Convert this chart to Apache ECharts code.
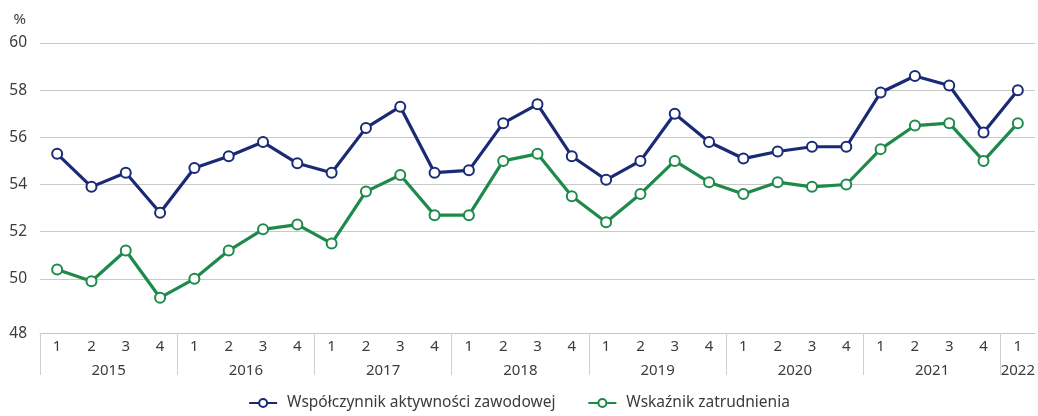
<!DOCTYPE html>
<html>
<head>
<meta charset="utf-8">
<script src="https://cdn.jsdelivr.net/npm/echarts@6/dist/echarts.min.js"></script>
<style>
  html, body { margin: 0; padding: 0; background: #fff; }
  #chart { width: 1038px; height: 416px; }
</style>
</head>
<body>
<div id="chart"></div>
<script>
var quarters = ['1','2','3','4','1','2','3','4','1','2','3','4','1','2','3','4',
                '1','2','3','4','1','2','3','4','1','2','3','4','1'];
var years = ['2015','2016','2017','2018','2019','2020','2021','2022'];
var yearTicks = [0, 4, 8, 12, 16, 20, 24, 28];
var yearLabelPos = [2, 6, 10, 14, 18, 22, 26, 28.5];
var yTicks = [48, 50, 52, 54, 56, 58, 60];

var aktywnosc = [55.3, 53.9, 54.5, 52.8, 54.7, 55.2, 55.8, 54.9, 54.5, 56.4, 57.3, 54.5,
                 54.6, 56.6, 57.4, 55.2, 54.2, 55.0, 57.0, 55.8, 55.1, 55.4, 55.6, 55.6,
                 57.9, 58.6, 58.2, 56.2, 58.0];
var zatrudnienie = [50.4, 49.9, 51.2, 49.2, 50.0, 51.2, 52.1, 52.3, 51.5, 53.7, 54.4, 52.7,
                    52.7, 55.0, 55.3, 53.5, 52.4, 53.6, 55.0, 54.1, 53.6, 54.1, 53.9, 54.0,
                    55.5, 56.5, 56.6, 55.0, 56.6];

var navy = '#1a2a75';
var green = '#1e8a4a';
var textColor = '#3c3c3c';
var font = 'Noto Sans';

var chart = echarts.init(document.getElementById('chart'));

var option = {
    backgroundColor: '#fff',
    textStyle: { fontFamily: font },
    animation: false,
    grid: { left: 40, right: 2, top: 43, bottom: 90, containLabel: false },
    legend: {
        bottom: 0,
        left: 'center',
        itemGap: 32,
        itemWidth: 28,
        itemHeight: 10,
        textStyle: { fontFamily: font, fontSize: 15.5, color: textColor, padding: [0, 0, 0, 5] },
        data: ['Współczynnik aktywności zawodowej', 'Wskaźnik zatrudnienia']
    },
    xAxis: [{
        type: 'category',
        data: quarters,
        position: 'bottom',
        offset: 7,
        boundaryGap: true,
        axisLine: { lineStyle: { color: '#c4c4c4', width: 1 } },
        axisTick: { interval: 0, length: 22, lineStyle: { color: '#cfcfcf' } },
        axisLabel: { interval: 0, margin: 6, fontSize: 15, color: textColor, fontFamily: font }
    }, {
        type: 'value',
        min: 0,
        max: 29,
        position: 'bottom',
        offset: 7,
        axisLine: { show: false },
        splitLine: { show: false },
        axisTick: { show: true, customValues: yearTicks, length: 42, lineStyle: { color: '#cfcfcf' } },
        axisLabel: {
            customValues: yearLabelPos,
            margin: 30,
            fontSize: 15,
            color: textColor,
            fontFamily: font,
            formatter: function (v) { return years[Math.floor(v / 4)]; }
        }
    }],
    yAxis: {
        type: 'value',
        min: 48,
        max: 60,
        interval: 2,
        name: '%',
        nameLocation: 'end',
        nameGap: 16,
        nameTextStyle: { fontSize: 15, color: textColor, align: 'right', padding: [0, 14, 0, 0] },
        axisLine: { show: false },
        axisTick: { show: false },
        splitLine: { showMinLine: false, lineStyle: { color: '#c8c8c8', width: 1 } },
        axisLabel: {
            customValues: yTicks,
            margin: 13,
            fontSize: 15.5,
            color: textColor,
            fontFamily: font,
            formatter: function (v) { return v === 48 ? '{low|48}' : String(v); },
            rich: { low: { fontSize: 15.5, color: textColor, padding: [16, 0, 0, 0] } }
        }
    },
    series: [{
        name: 'Współczynnik aktywności zawodowej',
        type: 'line',
        data: aktywnosc,
        symbol: 'emptyCircle',
        symbolSize: 10,
        itemStyle: { color: navy, borderWidth: 1.6 },
        lineStyle: { color: navy, width: 3.2 }
    }, {
        name: 'Wskaźnik zatrudnienia',
        type: 'line',
        data: zatrudnienie,
        symbol: 'emptyCircle',
        symbolSize: 10,
        itemStyle: { color: green, borderWidth: 1.6 },
        lineStyle: { color: green, width: 3.2 }
    }]
};

chart.setOption(option);
</script>
</body>
</html>
